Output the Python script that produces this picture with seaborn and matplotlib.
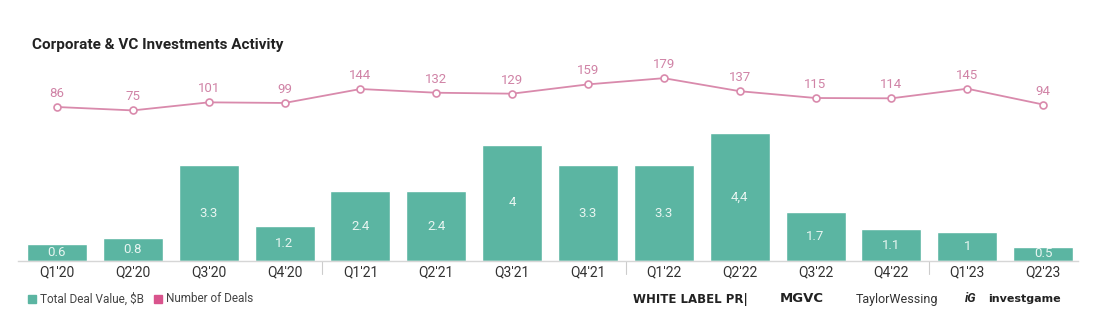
import matplotlib
matplotlib.use("Agg")
import matplotlib.pyplot as plt
import seaborn as sns
import numpy as np
import pandas as pd

quarters = ["Q1'20", "Q2'20", "Q3'20", "Q4'20", "Q1'21", "Q2'21", "Q3'21",
            "Q4'21", "Q1'22", "Q2'22", "Q3'22", "Q4'22", "Q1'23", "Q2'23"]
deal_value = [0.6, 0.8, 3.3, 1.2, 2.4, 2.4, 4.0, 3.3, 3.3, 4.4, 1.7, 1.1, 1.0, 0.5]
value_labels = ["0.6", "0.8", "3.3", "1.2", "2.4", "2.4", "4", "3.3", "3.3", "4,4",
                "1.7", "1.1", "1", "0.5"]
num_deals = [86, 75, 101, 99, 144, 132, 129, 159, 179, 137, 115, 114, 145, 94]

TEAL = "#5bb5a2"
PINK = "#d98aac"
PINK_TXT = "#d083a6"

sns.set_theme(style="white")
plt.rcParams['font.family'] = ['Roboto', 'DejaVu Sans']

W, H = 1113, 326
fig = plt.figure(figsize=(W / 100, H / 100), dpi=100)
left_px, right_px, base_px, top_px = 18, 1078, 261, 60
ax = fig.add_axes([left_px / W, (H - base_px) / H, (right_px - left_px) / W, (base_px - top_px) / H])

df = pd.DataFrame({"quarter": quarters, "value": deal_value, "deals": num_deals})
sns.barplot(data=df, x="quarter", y="value", color=TEAL, saturation=1, width=0.79, ax=ax)
ax.set_xlim(-0.514, 13.46)
ax.set_ylim(0, (base_px - top_px) / 29.0)
for i, (v, lab) in enumerate(zip(deal_value, value_labels)):
    ax.text(i, v / 2, lab, ha="center", va="center", color="#e8f5f1", fontsize=9.5)

ax.set_xlabel("")
ax.set_ylabel("")
ax.set_yticks([])
ax.tick_params(axis="x", length=0, labelsize=10, labelcolor="#333333", pad=3)
for s in ["top", "right", "left"]:
    ax.spines[s].set_visible(False)
ax.spines["bottom"].set_color("#d6d6d6")
ax.spines["bottom"].set_linewidth(1)
for xb in [3.5, 7.5, 11.5]:
    ax.plot([xb, xb], [0, -0.45], color="#cccccc", lw=0.8, clip_on=False)

ax2 = ax.twinx()
ppu = 0.31
lo = 86 - (base_px - 107) / ppu
hi = 86 + (107 - top_px) / ppu
x_pos = np.arange(len(quarters))
sns.lineplot(x=x_pos, y=num_deals, ax=ax2, color=PINK, lw=1.3, marker="o",
             markersize=5, markerfacecolor="white", markeredgecolor=PINK, markeredgewidth=1.2)
ax2.set_ylim(lo, hi)
ax2.set_yticks([])
ax2.set_ylabel("")
for s in ["top", "right", "left", "bottom"]:
    ax2.spines[s].set_visible(False)
for i, n in enumerate(num_deals):
    ax2.text(i, n + 13.5 / ppu, str(n), ha="center", va="center",
             color=PINK_TXT, fontsize=9.5)

fig.text(32 / W, 1 - 45 / H, "Corporate & VC Investments Activity", fontsize=11,
         fontweight="bold", color="#222222", ha="left", va="center")

# legend
ly = 1 - 299 / H
fig.patches.append(plt.Rectangle((28 / W, ly - 4 / H), 8 / W, 8 / H, transform=fig.transFigure,
                                 color=TEAL, figure=fig))
fig.text(40 / W, ly, "Total Deal Value, $B", fontsize=8.5, color="#444444", va="center")
fig.patches.append(plt.Rectangle((154 / W, ly - 4 / H), 8 / W, 8 / H, transform=fig.transFigure,
                                 color="#d9548d", figure=fig))
fig.text(166 / W, ly, "Number of Deals", fontsize=8.5, color="#444444", va="center")

# sponsor names
fig.text(633 / W, ly, "WHITE LABEL PR|", fontsize=8.5, fontweight="heavy", color="#222222",
         va="center", family=["DejaVu Sans"])
fig.text(780 / W, ly, "MGVC", fontsize=9.5, fontweight="bold", color="#222222", va="center",
         family=["DejaVu Sans"])
fig.text(856 / W, ly, "TaylorWessing", fontsize=9, color="#333333", va="center",
         family=["Roboto"])
fig.text(965 / W, ly, "iG", fontsize=9, fontweight="bold", fontstyle="italic", color="#222222",
         va="center")
fig.text(988 / W, ly, "investgame", fontsize=8, fontweight="bold", color="#222222", va="center",
         family=["DejaVu Sans"])

fig.savefig("out.png", dpi=100, facecolor="white")
